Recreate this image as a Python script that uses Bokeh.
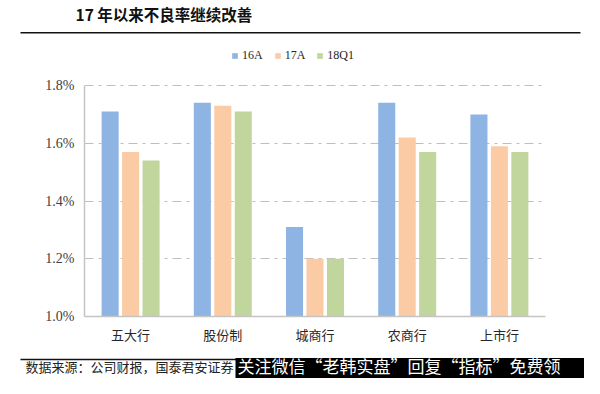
from bokeh.plotting import figure
from bokeh.layouts import column
from bokeh.models import (FactorRange, Range1d, FixedTicker, PrintfTickFormatter,
                          Legend, LegendItem, ColumnDataSource)
from bokeh.transform import dodge
from bokeh.core.properties import value
from bokeh.embed import file_html
from bokeh.resources import INLINE

# ---- data ----
title = "17 年以来不良率继续改善"
categories = ["五大行", "股份制", "城商行", "农商行", "上市行"]
series_names = ["16A", "17A", "18Q1"]
v16A = [1.71, 1.74, 1.31, 1.74, 1.70]
v17A = [1.57, 1.73, 1.20, 1.62, 1.59]
v18Q1 = [1.54, 1.71, 1.20, 1.57, 1.57]
y_ticks = [1.0, 1.2, 1.4, 1.6, 1.8]
source_text = "数据来源：公司财报，国泰君安证券"
watermark_text = "关注微信“老韩实盘”回复“指标”免费领"

colors = ["#8DB4E2", "#FBCBA6", "#C0D69C"]
CJK = "Noto Sans CJK SC"
SERIF = "Liberation Serif"


def no_align(fig):
    try:
        fig.frame_align = False
    except Exception:
        pass


# ---- header ----
h = figure(width=584, height=40, x_range=Range1d(0, 584), y_range=Range1d(40, 0),
           min_border=0, toolbar_location=None, output_backend="svg",
           x_axis_type=None, y_axis_type=None, outline_line_color=None)
no_align(h)
h.text(x=[75], y=[13], text=[title], text_font=value(CJK), text_font_style="bold",
       text_font_size="15.5px", text_baseline="middle", text_align="left", text_color="#111111")
h.segment(x0=[20], y0=[32.3], x1=[580], y1=[32.3], line_color="#111111", line_width=1.5)

# ---- main chart ----
src = ColumnDataSource(dict(cat=categories, v16A=v16A, v17A=v17A, v18Q1=v18Q1))
p = figure(width=584, height=306, x_range=FactorRange(factors=categories),
           y_range=Range1d(1.0, 1.942),
           min_border_left=84, min_border_right=39, min_border_top=4, min_border_bottom=30,
           toolbar_location=None, output_backend="svg", outline_line_color=None)
no_align(p)

bw = 0.185
off = 0.222
r1 = p.vbar(x=dodge("cat", -off, range=p.x_range), top="v16A", width=bw, source=src,
            fill_color=colors[0], line_color=None)
r2 = p.vbar(x=dodge("cat", 0.0, range=p.x_range), top="v17A", width=bw, source=src,
            fill_color=colors[1], line_color=None)
r3 = p.vbar(x=dodge("cat", off, range=p.x_range), top="v18Q1", width=bw, source=src,
            fill_color=colors[2], line_color=None)

p.yaxis.ticker = FixedTicker(ticks=y_ticks)
p.yaxis.formatter = PrintfTickFormatter(format="%.1f%%")
p.yaxis.bounds = (1.0, 1.8)
p.yaxis.major_tick_line_color = None
p.yaxis.minor_tick_line_color = None
p.yaxis.axis_line_color = "#C4C4C4"
p.yaxis.axis_line_width = 1.5
p.yaxis.major_label_standoff = 4
p.yaxis.major_label_text_font = SERIF
p.yaxis.major_label_text_font_size = "14px"
p.yaxis.major_label_text_color = "#404040"

p.xaxis.major_tick_line_color = None
p.xaxis.minor_tick_line_color = None
p.xaxis.axis_line_color = "#C4C4C4"
p.xaxis.axis_line_width = 1.5
p.xaxis.major_label_standoff = 2
p.xaxis.major_label_text_font = CJK
p.xaxis.major_label_text_font_size = "13px"
p.xaxis.major_label_text_color = "#262626"

p.xgrid.visible = False
p.ygrid.grid_line_color = "#BFBFBF"
p.ygrid.grid_line_width = 1.2
p.ygrid.grid_line_dash = "9 5 3 5"

legend = Legend(items=[LegendItem(label=series_names[0], renderers=[r1]),
                       LegendItem(label=series_names[1], renderers=[r2]),
                       LegendItem(label=series_names[2], renderers=[r3])],
                location=(147, 253), orientation="horizontal",
                glyph_width=7, glyph_height=7, label_standoff=4, spacing=11,
                padding=0, margin=0, border_line_color=None, background_fill_alpha=0,
                label_text_font=SERIF, label_text_font_size="12px", label_height=14,
                label_text_color="#262626")
p.add_layout(legend)

# ---- footer ----
f = figure(width=584, height=32, x_range=Range1d(0, 584), y_range=Range1d(32, 0),
           min_border=0, toolbar_location=None, output_backend="svg",
           x_axis_type=None, y_axis_type=None, outline_line_color=None)
no_align(f)
f.segment(x0=[20], y0=[13], x1=[580], y1=[13], line_color="#111111", line_width=1.5)
f.text(x=[25], y=[20], text=[source_text], text_font=value(CJK), text_font_size="13px",
       text_baseline="middle", text_align="left", text_color="#222222")
f.quad(left=[235], right=[584], top=[11.5], bottom=[32], fill_color="#000000", line_color=None)
f.text(x=[237], y=[19], text=[watermark_text], text_font=value(CJK), text_font_size="17px",
       text_baseline="middle", text_align="left", text_color="#FFFFFF")

layout = column(h, p, f, spacing=0)
open("out.html", "w").write(file_html(layout, INLINE))
